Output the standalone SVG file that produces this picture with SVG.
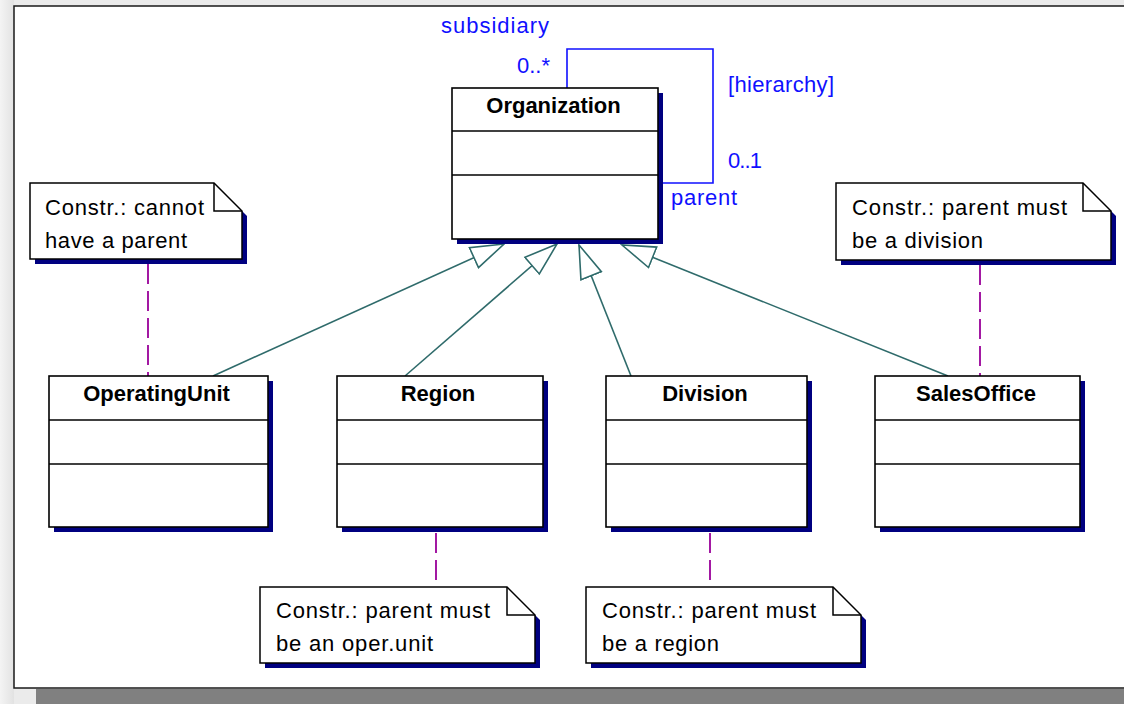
<svg xmlns="http://www.w3.org/2000/svg" width="1124" height="704" viewBox="0 0 1124 704">
<defs>
<linearGradient id="bgL" x1="0" y1="0" x2="1" y2="0">
<stop offset="0" stop-color="#f4f4f4"/>
<stop offset="1" stop-color="#e2e2e2"/>
</linearGradient>
<marker id="gen" markerUnits="userSpaceOnUse" markerWidth="36" markerHeight="26" viewBox="-1 -1 36 26" refX="33" refY="12" orient="auto">
<path d="M33,12 L0,1 L0,23 Z" fill="#ffffff" stroke="#2f6b6b" stroke-width="1.6"/>
</marker>
<style>
.box{fill:#ffffff;stroke:#000000;stroke-width:1.6}
.shadow{fill:#000080}
.sep{stroke:#000000;stroke-width:1.5}
.title{font-family:"Liberation Sans",Arial,sans-serif;font-size:22px;font-weight:bold;fill:#000000;text-anchor:middle}
.note{fill:#ffffff;stroke:#000000;stroke-width:1.5}
.fold{fill:none;stroke:#000000;stroke-width:1.5}
.ntext{font-family:"Liberation Sans",Arial,sans-serif;font-size:22px;fill:#000000}
.blue{font-family:"Liberation Sans",Arial,sans-serif;font-size:22px;fill:#1010ff}
.gen{stroke:#2f6b6b;stroke-width:1.6;fill:none;marker-end:url(#gen)}
.anchor{stroke:#990099;stroke-width:1.8;stroke-dasharray:20 7;fill:none}
.assoc{stroke:#1010ff;stroke-width:1.6;fill:none}
</style>
</defs>

<rect x="0" y="0" width="1124" height="704" fill="#ebebeb"/>
<rect x="0" y="0" width="14" height="704" fill="url(#bgL)"/>
<rect x="36" y="689" width="1088" height="15" fill="#808080"/>
<rect x="14" y="6" width="1120" height="682" fill="#ffffff" stroke="#1a1a1a" stroke-width="1.5"/>

<g id="connectors">
<line class="gen" x1="213" y1="376" x2="504" y2="244"/>
<line class="gen" x1="405" y1="376" x2="557" y2="244"/>
<line class="gen" x1="631" y1="376" x2="579" y2="245"/>
<line class="gen" x1="948" y1="376" x2="622" y2="245"/>
<line class="anchor" x1="148" y1="264" x2="148" y2="376"/>
<line class="anchor" x1="980" y1="265" x2="980" y2="376"/>
<line class="anchor" x1="436" y1="533" x2="436" y2="587"/>
<line class="anchor" x1="710" y1="533" x2="710" y2="587"/>
<path id="hierarchy" class="assoc" d="M567,88 V49 H713 V183 H658"/>
<text class="blue" x="441" y="33" textLength="108">subsidiary</text>
<text class="blue" x="517" y="73" textLength="33">0..*</text>
<text class="blue" x="728" y="92" textLength="106">[hierarchy]</text>
<text class="blue" x="728" y="168" textLength="34">0..1</text>
<text class="blue" x="671" y="205" textLength="66">parent</text>
</g>

<g id="Organization">
<rect class="shadow" x="457" y="93" width="206" height="151"/>
<rect class="box" x="452" y="88" width="206" height="151"/>
<line class="sep" x1="452" y1="131" x2="658" y2="131"/>
<line class="sep" x1="452" y1="175" x2="658" y2="175"/>
<text class="title" x="553.5" y="113">Organization</text>
</g>

<g id="OperatingUnit">
<rect class="shadow" x="54" y="381" width="219" height="151"/>
<rect class="box" x="49" y="376" width="219" height="151"/>
<line class="sep" x1="49" y1="420" x2="268" y2="420"/>
<line class="sep" x1="49" y1="464" x2="268" y2="464"/>
<text class="title" x="156.5" y="401">OperatingUnit</text>
</g>

<g id="Region">
<rect class="shadow" x="342" y="381" width="206" height="151"/>
<rect class="box" x="337" y="376" width="206" height="151"/>
<line class="sep" x1="337" y1="420" x2="543" y2="420"/>
<line class="sep" x1="337" y1="464" x2="543" y2="464"/>
<text class="title" x="438" y="401">Region</text>
</g>

<g id="Division">
<rect class="shadow" x="611" y="381" width="201" height="151"/>
<rect class="box" x="606" y="376" width="201" height="151"/>
<line class="sep" x1="606" y1="420" x2="807" y2="420"/>
<line class="sep" x1="606" y1="464" x2="807" y2="464"/>
<text class="title" x="705" y="401">Division</text>
</g>

<g id="SalesOffice">
<rect class="shadow" x="880" y="381" width="205" height="151"/>
<rect class="box" x="875" y="376" width="205" height="151"/>
<line class="sep" x1="875" y1="420" x2="1080" y2="420"/>
<line class="sep" x1="875" y1="464" x2="1080" y2="464"/>
<text class="title" x="976" y="401">SalesOffice</text>
</g>

<g id="note-operatingunit">
<polygon class="shadow" points="35,188 219,188 247,216 247,264 35,264"/>
<polygon class="note" points="30,183 214,183 242,211 242,259 30,259"/>
<path class="fold" d="M214,183 V211 H242"/>
<text class="ntext" x="45" y="215" textLength="159">Constr.: cannot</text>
<text class="ntext" x="45" y="248" textLength="142">have a parent</text>
</g>

<g id="note-salesoffice">
<polygon class="shadow" points="841,188 1088,188 1116,216 1116,265 841,265"/>
<polygon class="note" points="836,183 1083,183 1111,211 1111,260 836,260"/>
<path class="fold" d="M1083,183 V211 H1111"/>
<text class="ntext" x="852" y="215" textLength="215">Constr.: parent must</text>
<text class="ntext" x="852" y="248" textLength="131">be a division</text>
</g>

<g id="note-region">
<polygon class="shadow" points="265,592 512,592 540,620 540,668 265,668"/>
<polygon class="note" points="260,587 507,587 535,615 535,663 260,663"/>
<path class="fold" d="M507,587 V615 H535"/>
<text class="ntext" x="276" y="618" textLength="214">Constr.: parent must</text>
<text class="ntext" x="276" y="651" textLength="157">be an oper.unit</text>
</g>

<g id="note-division">
<polygon class="shadow" points="591,592 838,592 866,620 866,668 591,668"/>
<polygon class="note" points="586,587 833,587 861,615 861,663 586,663"/>
<path class="fold" d="M833,587 V615 H861"/>
<text class="ntext" x="602" y="618" textLength="214">Constr.: parent must</text>
<text class="ntext" x="602" y="651" textLength="117">be a region</text>
</g>
</svg>
